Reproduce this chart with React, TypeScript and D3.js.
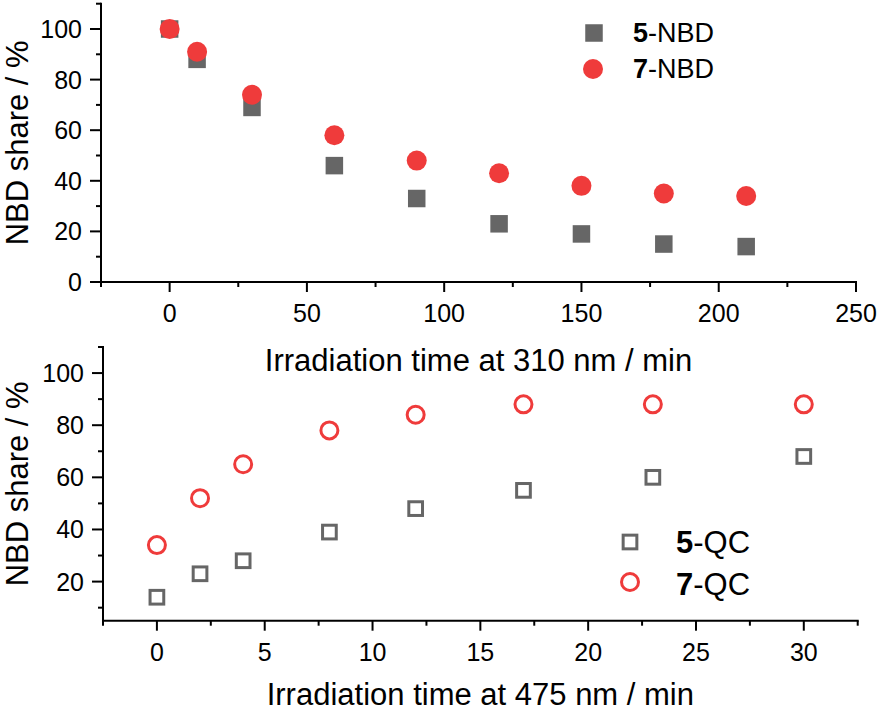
import * as d3 from "d3";

// top panel: NBD share under 310 nm irradiation
const timeTop = [0, 10, 30, 60, 90, 120, 150, 180, 210];
const nbd5 = [100, 88, 69, 46, 33, 23, 19, 15, 14];
const nbd7 = [100, 91, 74, 58, 48, 43, 38, 35, 34];

// bottom panel: back-conversion under 475 nm irradiation
const timeBottom = [0, 2, 4, 8, 12, 17, 23, 30];
const qc5 = [14, 23, 28, 39, 48, 55, 60, 68];
const qc7 = [34, 52, 65, 78, 84, 88, 88, 88];

const topXMajor = [0, 50, 100, 150, 200, 250];
const topXMinor = [-25, 25, 75, 125, 175, 225];
const topYMajor = [0, 20, 40, 60, 80, 100];
const topYMinor = [10, 30, 50, 70, 90, 110];
const botXMajor = [0, 5, 10, 15, 20, 25, 30];
const botXMinor = [-2.5, 2.5, 7.5, 12.5, 17.5, 22.5, 27.5, 32.5];
const botYMajor = [20, 40, 60, 80, 100];
const botYMinor = [10, 30, 50, 70, 90, 110];

const GRAY = "#666666";
const RED = "#ef3b3b";
const FONT = "'Liberation Sans', Arial, sans-serif";

type Lin = d3.ScaleLinear<number, number>;

function Axes({ x, y, xMajor, xMinor, yMajor, yMinor, xTitle, titleY }: {
  x: Lin; y: Lin; xMajor: number[]; xMinor: number[]; yMajor: number[]; yMinor: number[];
  xTitle: string; titleY: number;
}) {
  const [x0, x1] = x.range();
  const [y0, y1] = y.range();
  const cx = (x0 + x1) / 2;
  const cy = (y0 + y1) / 2;
  return (
    <g stroke="#000" strokeWidth={2}>
      <line x1={x0 - 1} x2={x1 + 1} y1={y0} y2={y0} />
      <line x1={x0} x2={x0} y1={y0 + 1} y2={y1 - 1} />
      {xMajor.map((t) => <line key={`xM${t}`} x1={x(t)} x2={x(t)} y1={y0} y2={y0 + 10} />)}
      {xMinor.map((t) => <line key={`xm${t}`} x1={x(t)} x2={x(t)} y1={y0} y2={y0 + 5} />)}
      {yMajor.map((t) => <line key={`yM${t}`} x1={x0} x2={x0 - 11} y1={y(t)} y2={y(t)} />)}
      {yMinor.map((t) => <line key={`ym${t}`} x1={x0} x2={x0 - 5} y1={y(t)} y2={y(t)} />)}
      <g stroke="none" fill="#000" fontFamily={FONT} fontSize={25}>
        {xMajor.map((t) => (
          <text key={`xl${t}`} x={x(t)} y={y0 + 40} textAnchor="middle">{t}</text>
        ))}
        {yMajor.map((t) => (
          <text key={`yl${t}`} x={x0 - 19} y={y(t) + 9} textAnchor="end">{t}</text>
        ))}
      </g>
      <text stroke="none" fill="#000" fontFamily={FONT} fontSize={31} x={cx} y={titleY} textAnchor="middle">
        {xTitle}
      </text>
      <text stroke="none" fill="#000" fontFamily={FONT} fontSize={31} textAnchor="middle"
        transform={`translate(28,${cy}) rotate(-90)`}>NBD share / %</text>
    </g>
  );
}

export default function App() {
  const xT = d3.scaleLinear().domain([-25, 250]).range([101, 856]);
  const yT = d3.scaleLinear().domain([0, 110]).range([282, 3.7]);
  const xB = d3.scaleLinear().domain([-2.5, 32.5]).range([103, 857.7]);
  const yB = d3.scaleLinear().domain([5, 110]).range([620.7, 347]);

  const sq = 17.5;
  const osq = 13.7;

  return (
    <svg width={880} height={713} style={{ position: "absolute", left: 0, top: 0, background: "#fff" }}>
      {/* top panel */}
      <Axes x={xT} y={yT} xMajor={topXMajor} xMinor={topXMinor} yMajor={topYMajor} yMinor={topYMinor}
        xTitle="Irradiation time at 310 nm / min" titleY={371} />
      {timeTop.map((t, i) => (
        <rect key={`s${t}`} x={xT(t) - sq / 2} y={yT(nbd5[i]) - sq / 2} width={sq} height={sq} fill={GRAY} />
      ))}
      {timeTop.map((t, i) => (
        <circle key={`c${t}`} cx={xT(t)} cy={yT(nbd7[i])} r={10} fill={RED} />
      ))}
      <rect x={594 - sq / 2} y={33 - sq / 2} width={sq} height={sq} fill={GRAY} />
      <circle cx={593} cy={69} r={10} fill={RED} />
      <g fontFamily={FONT} fontSize={27} fill="#000">
        <text x={633} y={42}><tspan fontWeight="bold">5</tspan>-NBD</text>
        <text x={633} y={78}><tspan fontWeight="bold">7</tspan>-NBD</text>
      </g>

      {/* bottom panel */}
      <Axes x={xB} y={yB} xMajor={botXMajor} xMinor={botXMinor} yMajor={botYMajor} yMinor={botYMinor}
        xTitle="Irradiation time at 475 nm / min" titleY={705} />
      {timeBottom.map((t, i) => (
        <rect key={`os${t}`} x={xB(t) - osq / 2} y={yB(qc5[i]) - osq / 2} width={osq} height={osq}
          fill="none" stroke={GRAY} strokeWidth={3} />
      ))}
      {timeBottom.map((t, i) => (
        <circle key={`oc${t}`} cx={xB(t)} cy={yB(qc7[i])} r={8.5} fill="none" stroke={RED} strokeWidth={3} />
      ))}
      <rect x={630 - osq / 2} y={542 - osq / 2} width={osq} height={osq} fill="none" stroke={GRAY} strokeWidth={3} />
      <circle cx={630} cy={582} r={8.5} fill="none" stroke={RED} strokeWidth={3} />
      <g fontFamily={FONT} fontSize={31} fill="#000">
        <text x={676} y={553}><tspan fontWeight="bold">5</tspan>-QC</text>
        <text x={676} y={595}><tspan fontWeight="bold">7</tspan>-QC</text>
      </g>
    </svg>
  );
}
